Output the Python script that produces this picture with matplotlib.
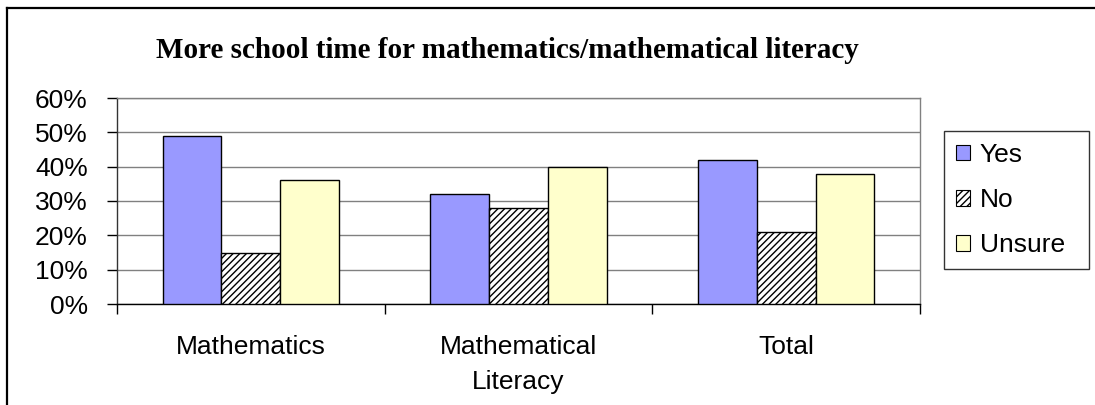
import matplotlib
matplotlib.use("Agg")
import matplotlib.pyplot as plt
from matplotlib.lines import Line2D
from matplotlib.patches import Patch
import numpy as np

# Survey responses (share of respondents)
categories = ["Mathematics", "Mathematical\nLiteracy", "Total"]
yes_vals = [0.49, 0.32, 0.42]
no_vals = [0.15, 0.28, 0.21]
unsure_vals = [0.36, 0.40, 0.38]
series_names = ["Yes", "No", "Unsure"]
y_ticks = [0.0, 0.1, 0.2, 0.3, 0.4, 0.5, 0.6]
y_tick_labels = ["0%", "10%", "20%", "30%", "40%", "50%", "60%"]

W, H = 1095, 405
plt.rcParams["font.family"] = ["Liberation Sans", "DejaVu Sans"]
plt.rcParams["hatch.linewidth"] = 1.0
plt.rcParams["hatch.color"] = "#333333"

fig = plt.figure(figsize=(W / 100, H / 100), dpi=100)
fig.patch.set_facecolor("white")

# plot area in pixel coordinates
x0, x1, ytop, ybot = 117, 920, 98, 304
ax = fig.add_axes([x0 / W, (H - ybot) / H, (x1 - x0) / W, (ybot - ytop) / H])

x = np.arange(len(categories))
bw = 0.22
styles = [
    dict(color="#9999FF", edgecolor="black"),
    dict(color="white", edgecolor="black", hatch="/////"),
    dict(color="#FFFFCC", edgecolor="black"),
]
for i, (vals, st) in enumerate(zip([yes_vals, no_vals, unsure_vals], styles)):
    ax.bar(x + (i - 1) * bw, vals, width=bw, linewidth=1.0, zorder=3, **st)

ax.set_xlim(-0.5, len(categories) - 0.5)
ax.set_ylim(0, 0.6)
ax.set_yticks(y_ticks)
ax.set_yticklabels(y_tick_labels, fontsize=19)
ax.yaxis.grid(True, color="#808080", linewidth=1.0, zorder=0)
ax.set_axisbelow(True)

# category boundaries get tick marks; labels sit at category centers
ax.set_xticks(np.arange(-0.5, len(categories)))
ax.set_xticklabels([])
ax.set_xticks(x, minor=True)
ax.set_xticklabels(categories, minor=True, fontsize=19, linespacing=1.6)
ax.tick_params(axis="x", which="major", direction="out", length=7, width=1.0, color="black")
ax.tick_params(axis="x", which="minor", length=0, pad=22)
ax.tick_params(axis="y", direction="out", length=7, width=1.0, color="black", pad=14)

for side in ["top", "right"]:
    ax.spines[side].set_color("#808080")
    ax.spines[side].set_linewidth(1.0)
ax.spines["left"].set_color("#333333")
ax.spines["bottom"].set_color("black")
ax.spines["left"].set_linewidth(1.0)
ax.spines["bottom"].set_linewidth(1.0)

fig.text(507 / W, 1 - 51 / H, "More school time for mathematics/mathematical literacy",
         fontsize=21, fontweight="bold", family=["Liberation Serif", "DejaVu Serif"],
         ha="center", va="center")

handles = [Patch(facecolor=st["color"], edgecolor="black", hatch=st.get("hatch"), linewidth=0.8)
           for st in styles]
leg = fig.legend(handles, series_names, loc="upper left",
                 bbox_to_anchor=(944 / W, (H - 272) / H, 145 / W, 141 / H),
                 mode="expand", fontsize=19,
                 frameon=True, fancybox=False, shadow=False,
                 handlelength=0.55, handleheight=0.55, handletextpad=0.35,
                 labelspacing=0.8, borderpad=0.45, borderaxespad=0)
leg.get_frame().set_edgecolor("black")
leg.get_frame().set_linewidth(1.0)

# chart border
fig.add_artist(Line2D([7 / W, 1.0], [1 - 8 / H, 1 - 8 / H], color="black", linewidth=1.6))
fig.add_artist(Line2D([7 / W, 7 / W], [0, 1 - 8 / H], color="black", linewidth=1.6))

fig.savefig("out.png", dpi=100)
